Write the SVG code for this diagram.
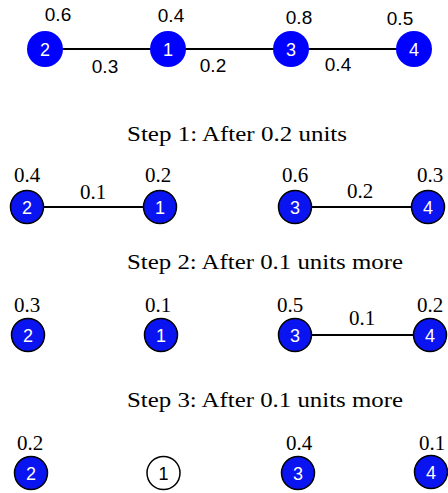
<svg xmlns="http://www.w3.org/2000/svg" width="448" height="493" viewBox="0 0 448 493">
<style>
.n{fill:#0000ff}
.ns{fill:#0a14f0;stroke:#000;stroke-width:1.5}
.nw{fill:#fff;stroke:#000;stroke-width:1.5}
.nt{font-family:"Liberation Sans",Arial,sans-serif;font-size:18px;fill:#fff;text-anchor:middle}
.ntb{font-family:"Liberation Sans",Arial,sans-serif;font-size:18px;fill:#000;text-anchor:middle}
.s{font-family:"Liberation Sans",Arial,sans-serif;font-size:19px;fill:#000;text-anchor:middle}
.r{font-family:"Liberation Serif","Times New Roman",serif;font-size:21px;fill:#000;text-anchor:middle}
.t{font-family:"Liberation Serif","Times New Roman",serif;font-size:21px;fill:#000;text-anchor:middle}
.e{stroke:#000;stroke-width:2;fill:none}
</style>
<rect width="448" height="493" fill="#fff"/>
<g id="connectors">
<line class="e" x1="45" y1="49" x2="414" y2="49"/>
<line class="e" x1="27" y1="207" x2="160" y2="207"/>
<line class="e" x1="295" y1="207" x2="428" y2="207"/>
<line class="e" x1="295" y1="335" x2="430" y2="335"/>
</g>
<g id="labels">
<text class="s" x="58" y="21">0.6</text>
<text class="s" x="171" y="22">0.4</text>
<text class="s" x="299" y="24">0.8</text>
<text class="s" x="400" y="25">0.5</text>
<text class="s" x="105" y="73">0.3</text>
<text class="s" x="213" y="72">0.2</text>
<text class="s" x="338" y="71">0.4</text>
<text class="t" x="237" y="141" textLength="220" lengthAdjust="spacingAndGlyphs">Step 1: After 0.2 units</text>
<text class="r" x="27" y="182">0.4</text>
<text class="r" x="158" y="182">0.2</text>
<text class="r" x="295" y="182">0.6</text>
<text class="r" x="430" y="182">0.3</text>
<text class="r" x="93" y="199">0.1</text>
<text class="r" x="360" y="198">0.2</text>
<text class="t" x="265" y="269" textLength="276" lengthAdjust="spacingAndGlyphs">Step 2: After 0.1 units more</text>
<text class="r" x="27" y="312">0.3</text>
<text class="r" x="158" y="312">0.1</text>
<text class="r" x="290" y="312">0.5</text>
<text class="r" x="430" y="312">0.2</text>
<text class="r" x="362" y="325">0.1</text>
<text class="t" x="265" y="407" textLength="276" lengthAdjust="spacingAndGlyphs">Step 3: After 0.1 units more</text>
<text class="r" x="30" y="450">0.2</text>
<text class="r" x="299" y="450">0.4</text>
<text class="r" x="432" y="450">0.1</text>
</g>
<g id="top-2"><circle class="n" cx="45" cy="49" r="18"/><text class="nt" x="45" y="55.5">2</text></g>
<g id="top-1"><circle class="n" cx="168" cy="49" r="18"/><text class="nt" x="168" y="55.5">1</text></g>
<g id="top-3"><circle class="n" cx="291" cy="49" r="18"/><text class="nt" x="291" y="55.5">3</text></g>
<g id="top-4"><circle class="n" cx="414" cy="49" r="18"/><text class="nt" x="414" y="55.5">4</text></g>
<g id="s1-2"><circle class="ns" cx="27" cy="207" r="16.5"/><text class="nt" x="27" y="213.5">2</text></g>
<g id="s1-1"><circle class="ns" cx="160" cy="207" r="16.5"/><text class="nt" x="160" y="213.5">1</text></g>
<g id="s1-3"><circle class="ns" cx="295" cy="207" r="16.5"/><text class="nt" x="295" y="213.5">3</text></g>
<g id="s1-4"><circle class="ns" cx="428" cy="207" r="16.5"/><text class="nt" x="428" y="213.5">4</text></g>
<g id="s2-2"><circle class="ns" cx="28" cy="335" r="16.5"/><text class="nt" x="28" y="341.5">2</text></g>
<g id="s2-1"><circle class="ns" cx="161" cy="335" r="16.5"/><text class="nt" x="161" y="341.5">1</text></g>
<g id="s2-3"><circle class="ns" cx="295" cy="335" r="16.5"/><text class="nt" x="295" y="341.5">3</text></g>
<g id="s2-4"><circle class="ns" cx="430" cy="335" r="16.5"/><text class="nt" x="430" y="341.5">4</text></g>
<g id="s3-2"><circle class="ns" cx="31" cy="473" r="16.5"/><text class="nt" x="31" y="479.5">2</text></g>
<g id="s3-1"><circle class="nw" cx="163.5" cy="473" r="16.5"/><text class="ntb" x="163.5" y="479.5">1</text></g>
<g id="s3-3"><circle class="ns" cx="298" cy="473" r="16.5"/><text class="nt" x="298" y="479.5">3</text></g>
<g id="s3-4"><circle class="ns" cx="431" cy="472" r="16.5"/><text class="nt" x="431" y="478.5">4</text></g>
</svg>
